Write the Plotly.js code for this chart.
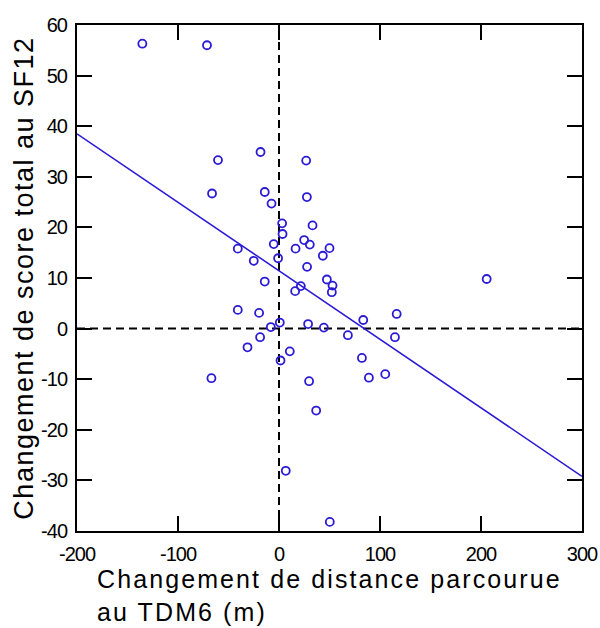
<!DOCTYPE html>
<html>
<head>
<meta charset="utf-8">
<script src="https://cdn.plot.ly/plotly-3.0.1.min.js"></script>
<style>
html, body { margin: 0; padding: 0; background: #fff; }
#chart { width: 600px; height: 628px; }
.annotation-text { letter-spacing: 2.1px; }
.ytitle { letter-spacing: 1.5px; }
.xtick text, .ytick text { letter-spacing: -1px; }
</style>
</head>
<body>
<div id="chart"></div>
<script>
// Change in 6MWT distance (m)
const distChange = [
  -135.3, -71.3, -60.4, -18.3, 26.9, -66.3, -14.1, -7.4, 27.6, 3.1,
  33.2, 3.5, -5.2, 24.9, 30.5, 16.4, 50.0, -40.8, 43.4, -25.0,
  -0.9, 27.8, -14.1, 47.4, 53.0, 21.6, 16.0, 52.3, -40.8, -19.7,
  83.4, 116.5, -8.1, 0.8, 28.8, 44.4, 205.6, 68.2, 114.8, -18.7,
  -31.2, 10.7, 1.5, 82.1, -66.9, 29.8, 89.0, 105.2, 36.8, 6.7, 50.3
];
// Change in SF12 total score
const scoreChange = [
  56.3, 56.0, 33.3, 34.9, 33.2, 26.7, 27.0, 24.7, 26.0, 20.8,
  20.4, 18.7, 16.7, 17.5, 16.6, 15.8, 15.9, 15.8, 14.4, 13.4,
  13.9, 12.2, 9.3, 9.7, 8.5, 8.4, 7.4, 7.2, 3.7, 3.1,
  1.7, 2.9, 0.3, 1.2, 0.9, 0.2, 9.8, -1.3, -1.7, -1.7,
  -3.7, -4.5, -6.3, -5.8, -9.8, -10.4, -9.7, -9.0, -16.2, -28.1, -38.2
];
// Regression line
const fitSlope = -0.1354;
const fitIntercept = 11.42;
const xRange = [-200, 300];
const yRange = [-40, 60];
const xTicks = [-200, -100, 0, 100, 200, 300];
const yTicks = [-40, -30, -20, -10, 0, 10, 20, 30, 40, 50, 60];
const xTitle = 'Changement de distance parcourue<br>au TDM6 (m)';
const yTitle = 'Changement de score total au SF12';

const blue = '#2b1bd6';
const fitY = xRange.map(x => fitIntercept + fitSlope * x);

const traces = [
  { x: [0, 0], y: yRange, mode: 'lines', hoverinfo: 'skip',
    line: { color: '#000', width: 2, dash: '8px,5px' } },
  { x: xRange, y: [0, 0], mode: 'lines', hoverinfo: 'skip',
    line: { color: '#000', width: 2, dash: '8px,5px' } },
  { x: xRange, y: fitY, mode: 'lines',
    line: { color: blue, width: 1.6 } },
  { x: distChange, y: scoreChange, mode: 'markers',
    marker: { symbol: 'circle-open', size: 8, color: blue, line: { width: 1.8, color: blue } } }
];

const axisCommon = {
  showgrid: false, zeroline: false, showline: true, linecolor: '#000', linewidth: 2,
  mirror: 'ticks', ticks: 'inside', ticklen: 15, tickwidth: 2, tickcolor: '#000',
  tickfont: { family: 'Liberation Sans, Arial, sans-serif', size: 20, color: '#000' }
};

const layout = {
  width: 600, height: 628,
  margin: { l: 77, r: 18, t: 25, b: 97 },
  paper_bgcolor: '#fff', plot_bgcolor: '#fff',
  showlegend: false,
  font: { family: 'Liberation Sans, Arial, sans-serif', color: '#000' },
  xaxis: Object.assign({}, axisCommon, {
    range: xRange, tickmode: 'array', tickvals: xTicks, ticktext: xTicks.map(String),
    ticklabelstandoff: 4
  }),
  yaxis: Object.assign({}, axisCommon, {
    range: yRange, tickmode: 'array', tickvals: yTicks, ticktext: yTicks.map(String),
    ticklabelstandoff: 4,
    title: { text: yTitle, font: { size: 27, color: '#000' }, standoff: 0 }
  }),
  annotations: [{
    text: xTitle, xref: 'paper', yref: 'paper', x: 0.036, y: -0.064,
    xanchor: 'left', yanchor: 'top', align: 'left', showarrow: false,
    font: { size: 25, color: '#000' }
  }]
};

Plotly.newPlot('chart', traces, layout, { displayModeBar: false, staticPlot: true });
</script>
</body>
</html>
